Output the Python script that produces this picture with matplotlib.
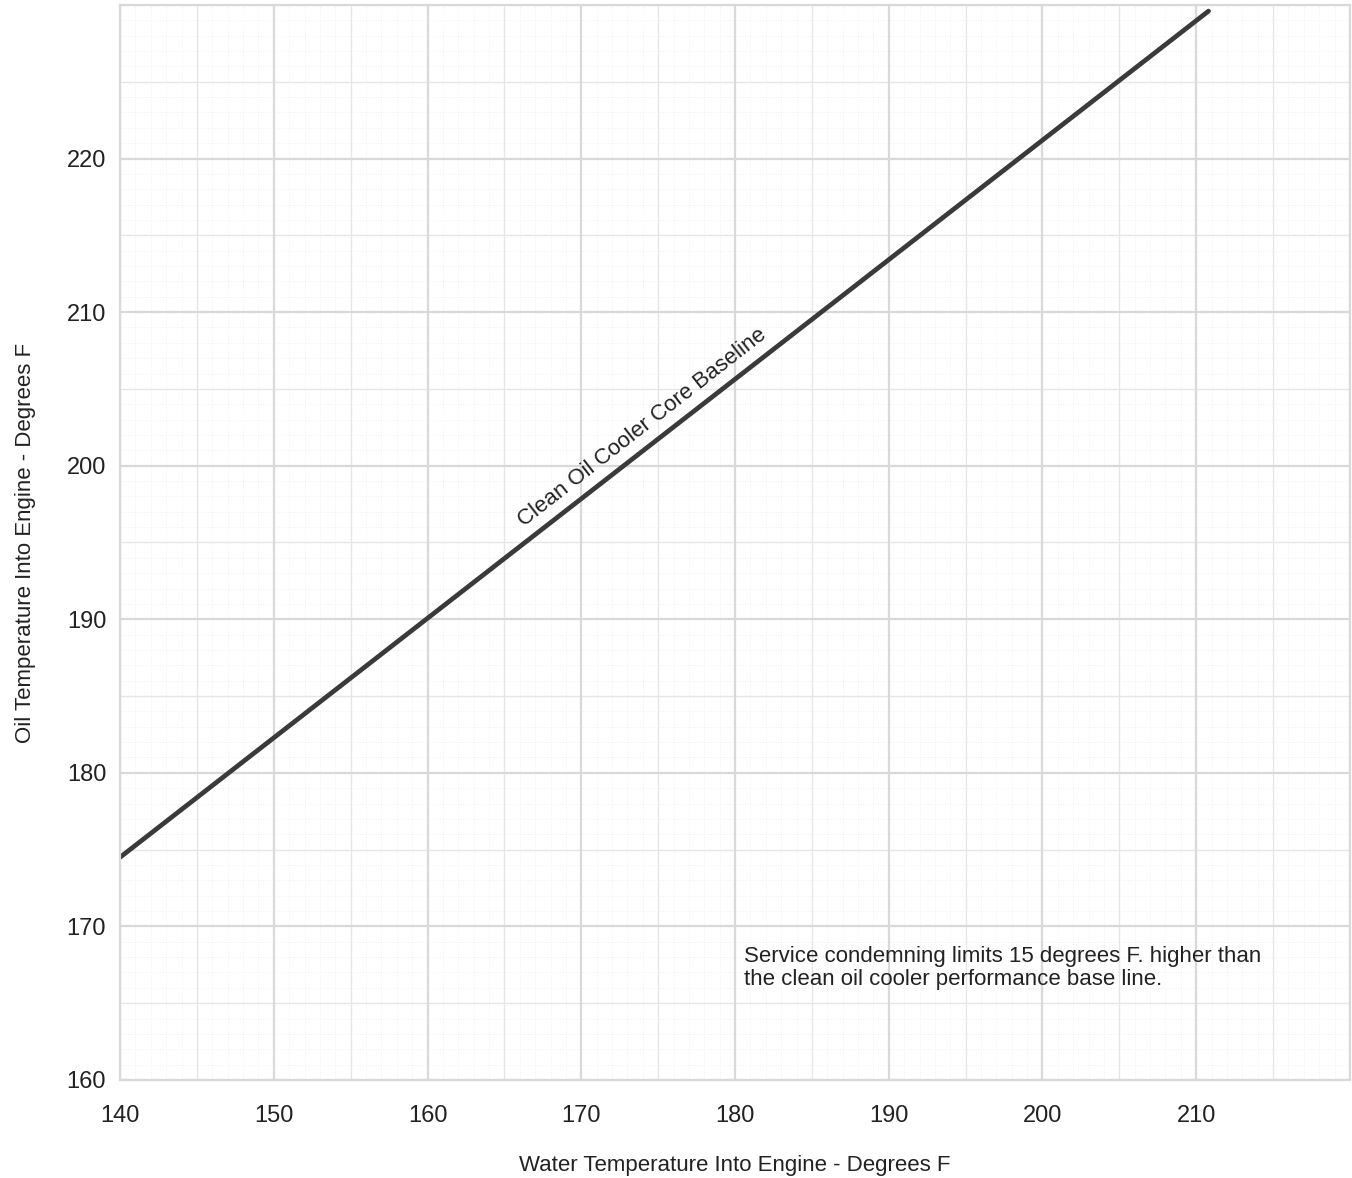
import numpy as np
import matplotlib
matplotlib.use("Agg")
import matplotlib.pyplot as plt

plt.rcParams['font.family'] = ['Liberation Sans', 'DejaVu Sans']

# baseline: water temp into engine vs oil temp into engine (deg F)
water_temp = [140, 210.8]
oil_temp = [174.5, 229.6]

x_ticks = [140, 150, 160, 170, 180, 190, 200, 210]
y_ticks = [160, 170, 180, 190, 200, 210, 220]

note = ("Service condemning limits 15 degrees F. higher than\n"
        "the clean oil cooler performance base line.")

fig = plt.figure(figsize=(13.52, 11.78), dpi=100)
ax = fig.add_axes([0.0888, 0.0832, 0.9097, 0.9126])

ax.set_xlim(140, 220)
ax.set_ylim(160, 230)

# graph paper grid
for v in np.arange(140, 221, 1):
    ax.axvline(v, color='#ececec', lw=0.6, ls=(0, (1, 2)), zorder=0)
for v in np.arange(160, 231, 1):
    ax.axhline(v, color='#ececec', lw=0.6, ls=(0, (1, 2)), zorder=0)
for v in np.arange(145, 221, 10):
    ax.axvline(v, color='#e6e6e6', lw=1.0, zorder=0)
for v in np.arange(165, 231, 10):
    ax.axhline(v, color='#e6e6e6', lw=1.0, zorder=0)
for v in np.arange(140, 221, 10):
    ax.axvline(v, color='#d9d9d9', lw=1.6, zorder=0)
for v in np.arange(160, 231, 10):
    ax.axhline(v, color='#d9d9d9', lw=1.6, zorder=0)

ax.plot(water_temp, oil_temp, color='#3a3a3a', lw=3.4, solid_capstyle='round')

ax.text(174.0, 202.5, "Clean Oil Cooler Core Baseline", rotation=38,
        ha='center', va='center', fontsize=16, color='#222222')
ax.text(180.6, 167.3, note, ha='left', va='center', fontsize=16,
        color='#222222', linespacing=1.1)

ax.set_xticks(x_ticks)
ax.set_yticks(y_ticks)
ax.tick_params(length=0, labelsize=17, colors='#222222')
ax.tick_params(axis='x', pad=18)
ax.tick_params(axis='y', pad=10)
for s in ax.spines.values():
    s.set_color('#d9d9d9')
    s.set_linewidth(1.6)

ax.set_xlabel("Water Temperature Into Engine - Degrees F", fontsize=16,
              color='#222222', labelpad=20)
ax.set_ylabel("Oil Temperature Into Engine - Degrees F", fontsize=16,
              color='#222222', labelpad=22)

fig.savefig("out.png", dpi=100)
